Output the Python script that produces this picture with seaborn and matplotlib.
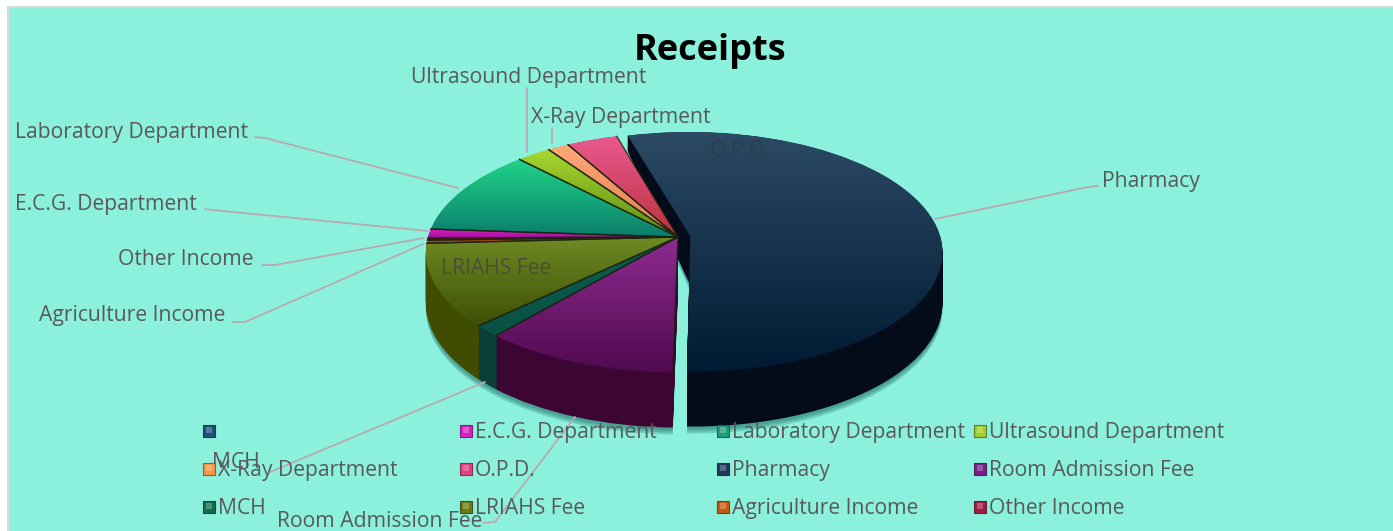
import numpy as np
import matplotlib
matplotlib.use("Agg")
import matplotlib.pyplot as plt
import seaborn as sns
from matplotlib.patches import Rectangle
from matplotlib.transforms import Transform

# data, in legend order (the first category has no name and no share)
categories = ["", "E.C.G. Department", "Laboratory Department", "Ultrasound Department",
              "X-Ray Department", "O.P.D.", "Pharmacy", "Room Admission Fee",
              "MCH", "LRIAHS Fee", "Agriculture Income", "Other Income"]
shares = [0, 1.22, 11.7, 2.5, 1.55, 3.7, 54.7, 11.1, 1.55, 11.2, 0.42, 0.28]
pulled_out = [0, 0, 0, 0, 0, 0, 0.05, 0, 0, 0, 0, 0]

# colours per slice
legend_colors = ["#1f4e79", "#d61fc0", "#1f9e78", "#a0cc30", "#f79646", "#e0407f",
                 "#1f3a5f", "#7a1f8a", "#146a50", "#6b7a10", "#c55a11", "#a01c40"]
top_light = ["#1f4e79", "#d81fc0", "#20d488", "#a8d830", "#ffa878", "#e85a90",
             "#2c4a64", "#8e2b90", "#0b5e50", "#6f8a25", "#d25a14", "#a01840"]
top_dark = ["#1f4e79", "#a0109a", "#0b7d6c", "#5d8a14", "#e08050", "#c0303c",
            "#001a33", "#4f0a4f", "#0a5045", "#3d4f05", "#a04010", "#801030"]
wall_colors = ["#10283c", "#5c0a58", "#06463c", "#3e5a0a", "#8a4c28", "#701c2c",
               "#030c18", "#3c0632", "#083d38", "#404d00", "#6b2a05", "#500a1c"]

CX, CY, RX, RY, PERSP = 678, 237, 250, 118, 0.13
DEPTH = 55
INK = "#595959"
LINE = "#b9a9b1"
TEXT_SIZE = 15.2


class Tilt(Transform):
    # lays the flat pie down, the far side smaller and with less wall than the near side
    input_dims = output_dims = 2
    has_inverse = False

    def __init__(self, drop=0):
        super().__init__()
        self.drop = drop

    def transform_non_affine(self, xy):
        x, y = np.asarray(xy).T
        w = 1 + PERSP * y
        wall = np.where(y > 0, 0.9 - 0.65 * y, 0.9 - 0.1 * y)
        return np.c_[CX + RX * x / w, CY + self.drop * wall - RY * y / w]


def draw_pie(ax, colors, drop=0, zorder=2, lift=0.0, alpha=None):
    wedges, _ = ax.pie(shares, explode=pulled_out, colors=colors, startangle=180.5,
                       counterclock=False, wedgeprops={"linewidth": 0, "alpha": alpha})
    tilt = Tilt(drop)
    for i, w in enumerate(wedges):
        w.set_transform(tilt + ax.transData)
        w.set_zorder(zorder + lift if i == 6 else zorder)
    return wedges, tilt


sns.set_theme(style="white")
plt.rcParams["font.family"] = ["Open Sans", "DejaVu Sans"]

fig = plt.figure(figsize=(13.93, 5.31), dpi=100, facecolor="white")
ax = fig.add_axes([0, 0, 1, 1])

ax.add_patch(Rectangle((7.5, 6.5), 1400, 540, facecolor="#8bf1dc", edgecolor="#d9d9d9",
                       linewidth=1.5, zorder=0))

# soft shadow under the pie
for off in [DEPTH + 7, DEPTH + 5, DEPTH + 3]:
    draw_pie(ax, ["#1e6e66"] * len(shares), drop=off, zorder=0.5, alpha=0.25)

# side walls, stacked from the bottom up; the pulled out slice's wall goes under the other tops
for drop in range(DEPTH, 0, -1):
    draw_pie(ax, wall_colors, drop=drop, zorder=1, lift=0.5)

# top face with a vertical shine on each slice
wedges, tilt = draw_pie(ax, top_light, zorder=2, lift=3)
for i, w in enumerate(wedges):
    if shares[i] == 0:
        continue
    box = tilt.transform_path(w.get_path()).get_extents()
    cmap = sns.blend_palette([top_light[i], top_dark[i]], as_cmap=True)
    z = 2.5 + (3 if i == 6 else 0)
    im = ax.imshow(np.linspace(0, 1, 256)[:, None], cmap=cmap, aspect="auto", zorder=z,
                   extent=(box.x0, box.x1, box.y1, box.y0), origin="upper")
    im.set_clip_path(w)
    w.set_facecolor("none")
    # dark seams between the slices, none along the rim
    if i != 6:
        for theta in [w.theta1, w.theta2]:
            ax.plot([0, np.cos(np.radians(theta))], [0, np.sin(np.radians(theta))],
                    color="#1a2410", linewidth=1.0, alpha=0.8, zorder=z + 0.1,
                    transform=tilt + ax.transData)

ax.set_aspect("auto")
ax.set_xlim(0, 1393)
ax.set_ylim(531, 0)
ax.axis("off")

# title
ax.text(710, 60, "Receipts", fontsize=26, fontweight="bold", color="black",
        ha="center", va="baseline", zorder=9)

# data labels with leader lines
labels = [("Pharmacy", 1102, 187, [(935, 219), (1088, 187), (1098, 186)]),
          ("Ultrasound Department", 411, 83, [(527, 152), (527, 88)]),
          ("X-Ray Department", 531, 123, [(552, 143), (552, 128)]),
          ("Laboratory Department", 15, 138, [(458, 188), (265, 138), (255, 137)]),
          ("E.C.G. Department", 15, 210, [(428, 231), (212, 210), (205, 209)]),
          ("Other Income", 118, 265, [(424, 238), (275, 265), (262, 265)]),
          ("Agriculture Income", 39, 321, [(423, 244), (245, 322), (233, 322)]),
          ("MCH", 212, 468, [(485, 382), (270, 472)]),
          ("Room Admission Fee", 277, 527, [(575, 417), (495, 522), (483, 523)])]
for name, x, y, pts in labels:
    px, py = zip(*pts)
    ax.plot(px, py, color=LINE, linewidth=1.3, zorder=7)
    ax.text(x, y, name, fontsize=TEXT_SIZE, color=INK, ha="left", va="baseline", zorder=8)
ax.text(441, 274, "LRIAHS Fee", fontsize=TEXT_SIZE, color="#4a4f35", va="baseline", zorder=8)
ax.text(710, 156, "O.P.D.", fontsize=TEXT_SIZE, color="#2e3c4c", va="baseline", zorder=8)

# legend, four even columns
col_x = [209, 466, 723, 980]
row_y = [438, 476, 514]
for i, name in enumerate(categories):
    x, y = col_x[i % 4], row_y[i // 4]
    ax.plot([x], [y - 7], marker="s", markersize=8.5, color=legend_colors[i],
            markeredgecolor=sns.dark_palette(legend_colors[i], 3)[1], markeredgewidth=0.8,
            zorder=8)
    ax.plot([x], [y - 8], marker="s", markersize=4.5,
            color=sns.blend_palette([legend_colors[i], "white"], 5)[1],
            markeredgewidth=0, zorder=8)
    ax.text(x + 9, y, name, fontsize=TEXT_SIZE, color=INK, va="baseline", zorder=8)

fig.savefig("out.png", dpi=100)
